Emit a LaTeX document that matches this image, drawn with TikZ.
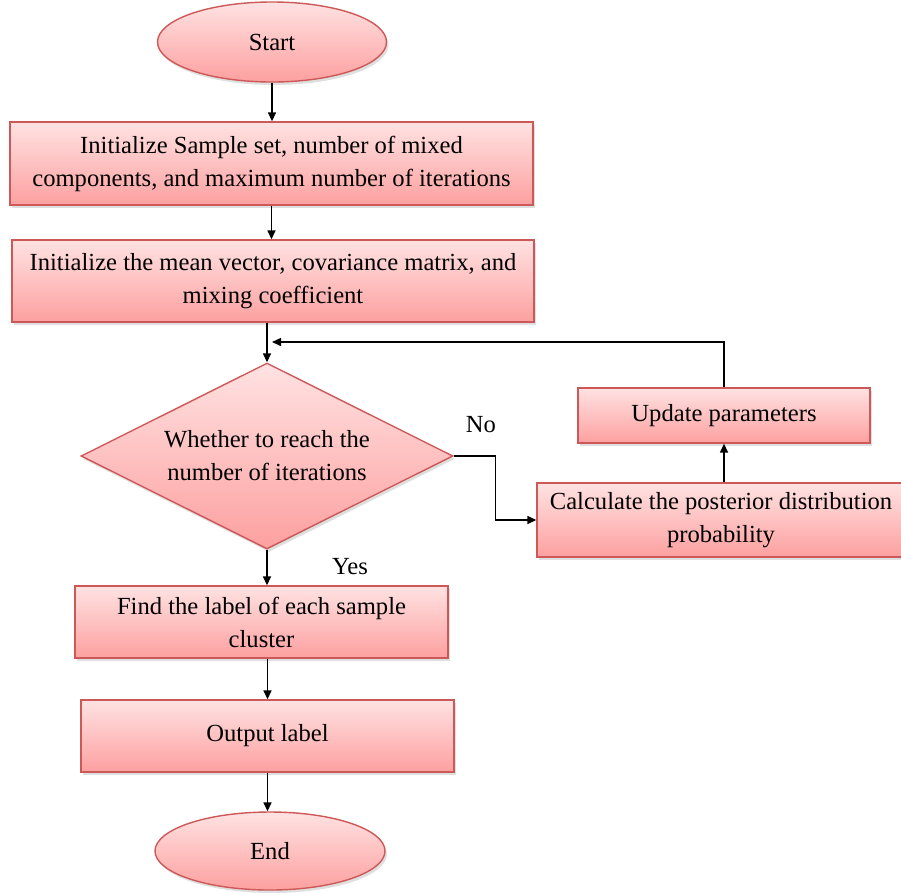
\documentclass[tikz,border=0pt]{standalone}
\usepackage{fontspec}
\setmainfont{Liberation Serif}
\usepackage{tikz}
\usetikzlibrary{positioning, arrows.meta, shapes.geometric, shadows}
\usepackage{xcolor}
\definecolor{boxTop}{RGB}{255, 226, 226}
\definecolor{boxBottom}{RGB}{253, 160, 160}
\definecolor{boxLine}{RGB}{205, 88, 88}

\begin{document}
\begin{tikzpicture}[x=1pt, y=-1pt, >={Triangle[length=9pt, width=8pt]},
  font=\fontsize{24.6}{33}\selectfont,
  every node/.style={align=center},
  box/.style={draw=boxLine, line width=1.4pt, top color=boxTop, bottom color=boxBottom,
    drop shadow={shadow xshift=2pt, shadow yshift=-3pt, opacity=0.25}, inner sep=0pt},
  process/.style={box, rectangle},
  terminal/.style={box, ellipse, minimum width=229pt, minimum height=80pt},
  decision/.style={box, diamond, aspect=2},
  link/.style={->, line width=1.5pt}]
  \useasboundingbox (0,0) rectangle (901,892);

  % main column
  \node[terminal] (start) at (272,42) {Start};
  \node[process, minimum width=523pt, minimum height=83pt] (init) at (271.5,163.5)
    {Initialize Sample set, number of mixed\\components, and maximum number of iterations};
  \node[process, minimum width=522pt, minimum height=82pt] (param) at (273,281)
    {Initialize the mean vector, covariance matrix, and\\mixing coefficient};
  \node[decision, minimum width=372pt, minimum height=186pt] (check) at (267,456)
    {Whether to reach the\\number of iterations};
  \node[process, minimum width=373pt, minimum height=72pt] (find) at (261.5,622)
    {Find the label of each sample\\cluster};
  \node[process, minimum width=373pt, minimum height=72pt] (output) at (267.5,736)
    {Output label};
  \node[terminal, minimum width=230pt, minimum height=78pt] (end) at (270,851) {End};

  % loop branch
  \node[process, minimum width=292pt, minimum height=55pt] (update) at (724,415.5)
    {Update parameters};
  \node[process, minimum width=368pt, minimum height=74pt] (post) at (721,520)
    {Calculate the posterior distribution\\probability};
  \coordinate (loop) at (272,342);

  \node (no) at (481,425) {No};
  \node (yes) at (350,567) {Yes};

  \draw[link] (start.south) -- (start.south |- init.north);
  \draw[link] (init.south) -- (init.south |- param.north);
  \draw[link] (param.south -| check.north) -- (check.north);
  \draw[link] (update.north) |- (loop);
  \draw[link] (check.east) -- ++(42,0) |- (post.west);
  \draw[link] (post.north -| update) -- (update.south);
  \draw[link] (check.south) -- (check.south |- find.north);
  \draw[link] (find.south -| output) -- (output.north);
  \draw[link] (output.south) -- (output.south |- end.north);
\end{tikzpicture}
\end{document}
